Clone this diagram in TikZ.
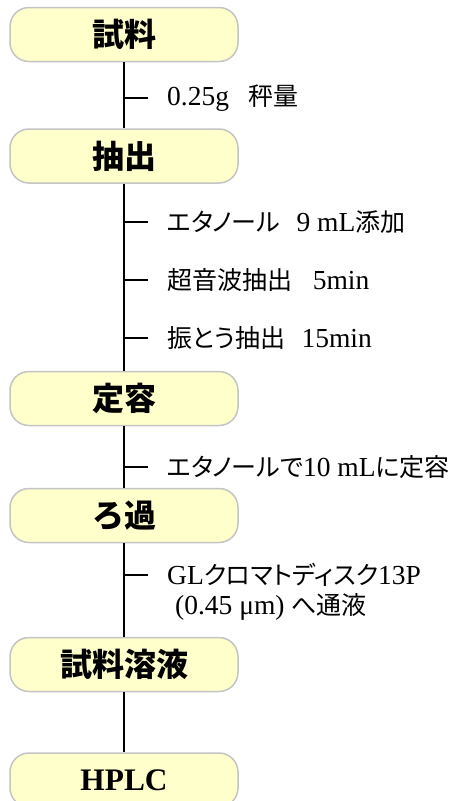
\documentclass[tikz,border=0pt]{standalone}
\usepackage{fontspec}
\setmainfont{Liberation Serif}[Scale=1.1]
\newfontfamily\jp{Noto Sans CJK JP}[RawFeature=+palt]
\newfontfamily\jpbox{Noto Sans CJK JP}
\definecolor{boxfill}{HTML}{FFFFCC}
\definecolor{boxgray}{HTML}{C4C4C4}
\begin{document}
\begin{tikzpicture}[x=1pt,y=-1pt,
  box/.style={draw=boxgray, line width=1.5pt, fill=boxfill, rounded corners=19pt,
    minimum width=228pt, minimum height=54pt, inner sep=0pt,
    font=\fontsize{32}{36}\selectfont\jpbox\bfseries},
  note/.style={anchor=west, inner sep=0pt, font=\fontsize{25}{30}\selectfont},
  link/.style={line width=1.4pt, black}]
\useasboundingbox (0,0) rectangle (458,801);
% main boxes
\node[box] (b1) at (124,34.5) {試料};
\node[box] (b2) at (124,156) {抽出};
\node[box] (b3) at (124,398.5) {定容};
\node[box] (b4) at (124,515.5) {ろ過};
\node[box] (b5) at (124,664.5) {試料溶液};
\node[box, font=\fontsize{28.5}{34}\selectfont\bfseries] (b6) at (124,780) {HPLC};
% vertical connectors
\draw[link] (b1) -- (b2);
\draw[link] (b2) -- (b3);
\draw[link] (b3) -- (b4);
\draw[link] (b4) -- (b5);
\draw[link] (b5) -- (b6);
% notes
\node[note] (n1) at (167,98) {0.25g\hspace{0.7em}{\jp 秤量}};
\node[note] (n2) at (167,222) {{\jp エタノール}\hspace{0.6em}9 mL{\jp 添加}};
\node[note] (n3) at (167,280) {{\jp 超音波抽出}\hspace{0.75em}5min};
\node[note] (n4) at (167,338) {{\jp 振とう抽出}\hspace{0.6em}15min};
\node[note] (n5) at (167,467) {{\jp エタノールで}10 mL{\jp に定容}};
\node[note] (n6) at (167,575) {GL{\jp クロマトディスク}13P};
\node[note] (n7) at (175,607) {(0.45 μm) {\jp へ通液}};
% ticks
\foreach \n in {n1,n2,n3,n4,n5,n6}
  \draw[link] (\n.west -| b1.south) -- ([xshift=-19pt]\n.west);
\end{tikzpicture}
\end{document}
